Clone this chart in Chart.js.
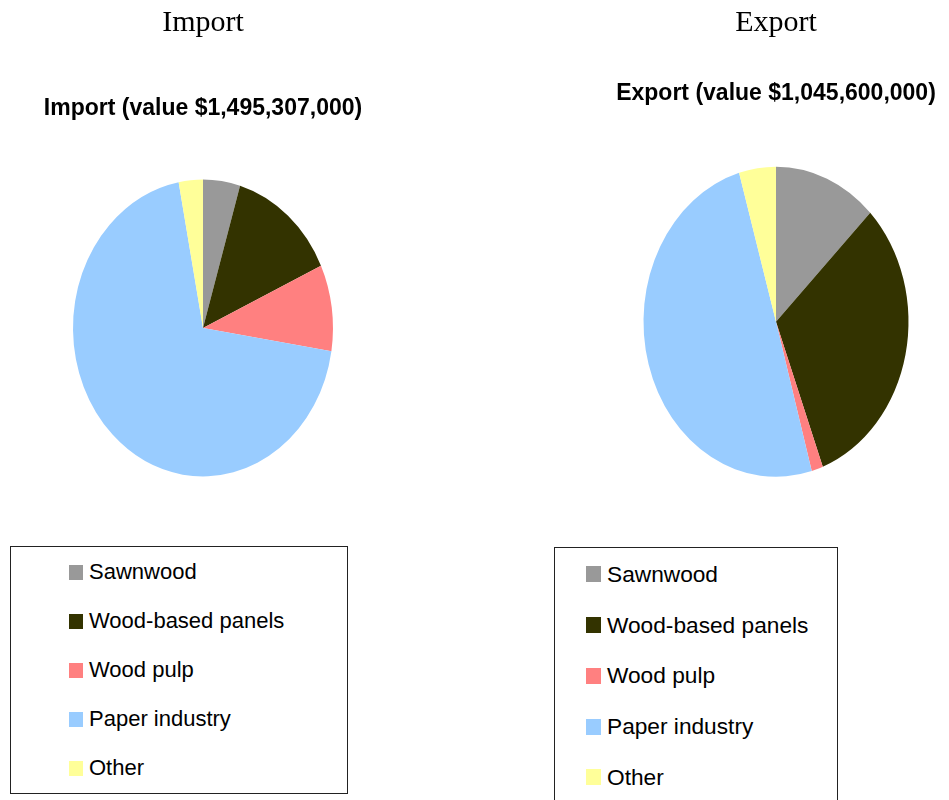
<!DOCTYPE html>
<html>
<head>
<meta charset="utf-8">
<title>Forest products trade</title>
<script src="https://cdn.jsdelivr.net/npm/chart.js@4/dist/chart.umd.min.js"></script>
<style>
    body { margin: 0; background: #fff; overflow: hidden; width: 949px; height: 800px; position: relative; }
    canvas { position: absolute; top: 0; }
    #importChart { left: 0; }
    #exportChart { left: 604px; }
    .legend {
        position: absolute;
        border: 1px solid #222;
        font-family: "Liberation Sans", Arial, sans-serif;
        color: #000;
    }
    .legend ul { list-style: none; margin: 0; }
    .legend li { display: flex; align-items: center; }
    .legend .swatch { display: inline-block; margin-right: 6px; }
    #importLegend { left: 10px; top: 546px; width: 336px; height: 246px; font-size: 22px; }
    #importLegend ul { padding: 0.5px 0 0 58px; }
    #importLegend li { height: 49px; }
    #importLegend .swatch { width: 14px; height: 15px; }
    #exportLegend { left: 554px; top: 547px; width: 282px; height: 300px; font-size: 22.7px; }
    #exportLegend ul { padding: 1px 0 0 31px; }
    #exportLegend li { height: 50.75px; }
    #exportLegend .swatch { width: 15px; height: 16px; }
</style>
</head>
<body>
<canvas id="importChart" width="406" height="540"></canvas>
<canvas id="exportChart" width="344" height="540"></canvas>
<div class="legend" id="importLegend"><ul></ul></div>
<div class="legend" id="exportLegend"><ul></ul></div>

<script>
// Product groups and their share (%) of trade value
const categories = ['Sawnwood', 'Wood-based panels', 'Wood pulp', 'Paper industry', 'Other'];
const importShares = [4.6, 13.5, 9.4, 69.5, 3.0];
const exportShares = [12.6, 31.7, 1.4, 49.9, 4.5];
const importValue = 1495307000;
const exportValue = 1045600000;

const sliceColors = ['#999999', '#333300', '#ff8080', '#99ccff', '#ffff99'];

function money(v) {
    return '$' + v.toLocaleString('en-US');
}

// Pie is drawn slightly taller than wide
const ovalPie = {
    id: 'ovalPie',
    beforeDatasetsDraw(chart, args, opts) {
        const arc = chart.getDatasetMeta(0).data[0];
        const ctx = chart.ctx;
        ctx.save();
        ctx.translate(arc.x, arc.y);
        ctx.scale(1, opts.stretch || 1);
        ctx.translate(-arc.x, -arc.y);
    },
    afterDatasetsDraw(chart) {
        chart.ctx.restore();
    }
};

// Boxed legend built as an HTML list under each pie
const htmlLegend = {
    id: 'htmlLegend',
    afterUpdate(chart, args, opts) {
        const list = document.querySelector('#' + opts.containerID + ' ul');
        list.innerHTML = '';
        const items = chart.options.plugins.legend.labels.generateLabels(chart);
        items.forEach(item => {
            const li = document.createElement('li');
            const box = document.createElement('span');
            box.className = 'swatch';
            box.style.background = item.fillStyle;
            const label = document.createElement('span');
            label.textContent = item.text;
            li.append(box, label);
            list.appendChild(li);
        });
    }
};

function makePie(canvasId, legendId, heading, caption, shares, cfg) {
    const ctx = document.getElementById(canvasId).getContext('2d');
    return new Chart(ctx, {
        type: 'pie',
        data: {
            labels: categories,
            datasets: [{
                data: shares,
                backgroundColor: sliceColors,
                borderWidth: 0,
                radius: cfg.radius,
                clip: false
            }]
        },
        plugins: [ovalPie, htmlLegend],
        options: {
            responsive: false,
            animation: false,
            layout: { padding: { left: 0, right: 0, top: 0, bottom: cfg.bottom } },
            plugins: {
                legend: { display: false },
                tooltip: { enabled: false },
                title: {
                    display: true,
                    text: heading,
                    color: '#000',
                    font: { family: '"Liberation Serif", "Times New Roman", serif', size: 30, weight: 'normal' },
                    padding: { top: 5, bottom: 0 }
                },
                subtitle: {
                    display: true,
                    text: caption,
                    color: '#000',
                    font: { family: '"Liberation Sans", Arial, sans-serif', size: 23, weight: 'bold' },
                    padding: { top: cfg.gap, bottom: 10 }
                },
                ovalPie: { stretch: cfg.stretch },
                htmlLegend: { containerID: legendId }
            }
        }
    });
}

makePie('importChart', 'importLegend', 'Import', 'Import (value ' + money(importValue) + ')',
    importShares, { radius: 130, stretch: 1.142, gap: 54, bottom: 16.6 });
makePie('exportChart', 'exportLegend', 'Export', 'Export (value ' + money(exportValue) + ')',
    exportShares, { radius: 132.5, stretch: 1.17, gap: 39, bottom: 14.2 });
</script>
</body>
</html>
